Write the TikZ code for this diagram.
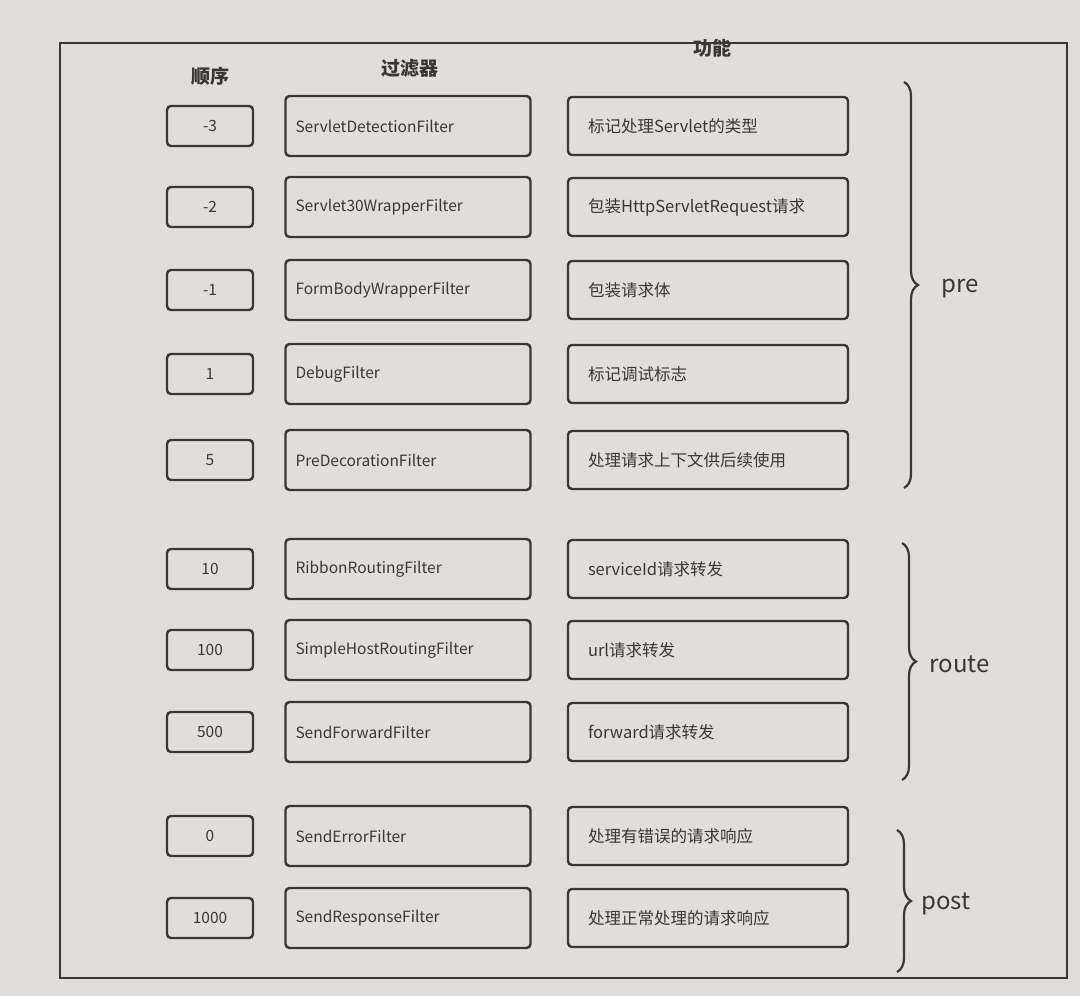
\documentclass[tikz,border=0pt]{standalone}
\usepackage{fontspec}
\setmainfont{Noto Sans CJK SC}
\usetikzlibrary{decorations.pathreplacing}
\definecolor{paper}{RGB}{224,222,218}
\definecolor{ink}{RGB}{58,56,54}

\begin{document}
\begin{tikzpicture}[x=1pt,y=-1pt,color=ink,
        orderbox/.style={draw,line width=2.4pt,rounded corners=4pt,minimum width=86pt,minimum height=40pt,
            font=\fontsize{15.5}{18}\selectfont},
        filterbox/.style={draw,line width=2.4pt,rounded corners=4pt,text width=225pt,inner xsep=10pt,
            minimum height=60pt,align=left,font=\fontsize{15.5}{18}\selectfont},
        dutybox/.style={draw,line width=2.4pt,rounded corners=4pt,text width=240pt,inner xsep=20pt,
            minimum height=58pt,align=left,font=\fontsize{16.5}{19}\selectfont},
        head/.style={font=\bfseries\fontsize{19}{22}\selectfont},
        stage/.style={anchor=west,font=\fontsize{24}{28}\selectfont},
        stagebrace/.style={decorate,decoration={brace,amplitude=14pt},line width=2.2pt}]

    % paper and frame
    \fill[paper] (0,0) rectangle (1080,996);
    \draw[line width=1.3pt] (60,43) rectangle (1067,978);

    % column heads
    \node[head] (hord) at (210,76) {顺序};
    \node[head] (hflt) at (410,68) {过滤器};
    \node[head] (hfun) at (712,48) {功能};

    % one row per filter
    \foreach \i/\y/\ord/\flt/\fun in {
        1/126/-3/ServletDetectionFilter/标记处理Servlet的类型,
        2/207/-2/Servlet30WrapperFilter/包装HttpServletRequest请求,
        3/290/-1/FormBodyWrapperFilter/包装请求体,
        4/374/1/DebugFilter/标记调试标志,
        5/460/5/PreDecorationFilter/处理请求上下文供后续使用,
        6/569/10/RibbonRoutingFilter/serviceId请求转发,
        7/650/100/SimpleHostRoutingFilter/url请求转发,
        8/732/500/SendForwardFilter/forward请求转发,
        9/836/0/SendErrorFilter/处理有错误的请求响应,
        10/918/1000/SendResponseFilter/处理正常处理的请求响应}
    {
        \node[orderbox] (ord\i) at (210,\y) {\ord};
        \node[filterbox] (flt\i) at (408,\y) {\flt};
        \node[dutybox] (fun\i) at (708,\y) {\fun};
    }

    % stages
    \coordinate (pretop) at (904,82);
    \coordinate (prebot) at (904,488);
    \coordinate (routetop) at (902,543);
    \coordinate (routebot) at (902,780);
    \coordinate (posttop) at (897,830);
    \coordinate (postbot) at (897,972);
    \draw[stagebrace] (pretop) -- (prebot);
    \draw[stagebrace] (routetop) -- (routebot);
    \draw[stagebrace] (posttop) -- (postbot);
    \node[stage] (pre) at (938,289) {pre};
    \node[stage] (route) at (926,664) {route};
    \node[stage] (post) at (918,904) {post};
\end{tikzpicture}
\end{document}
